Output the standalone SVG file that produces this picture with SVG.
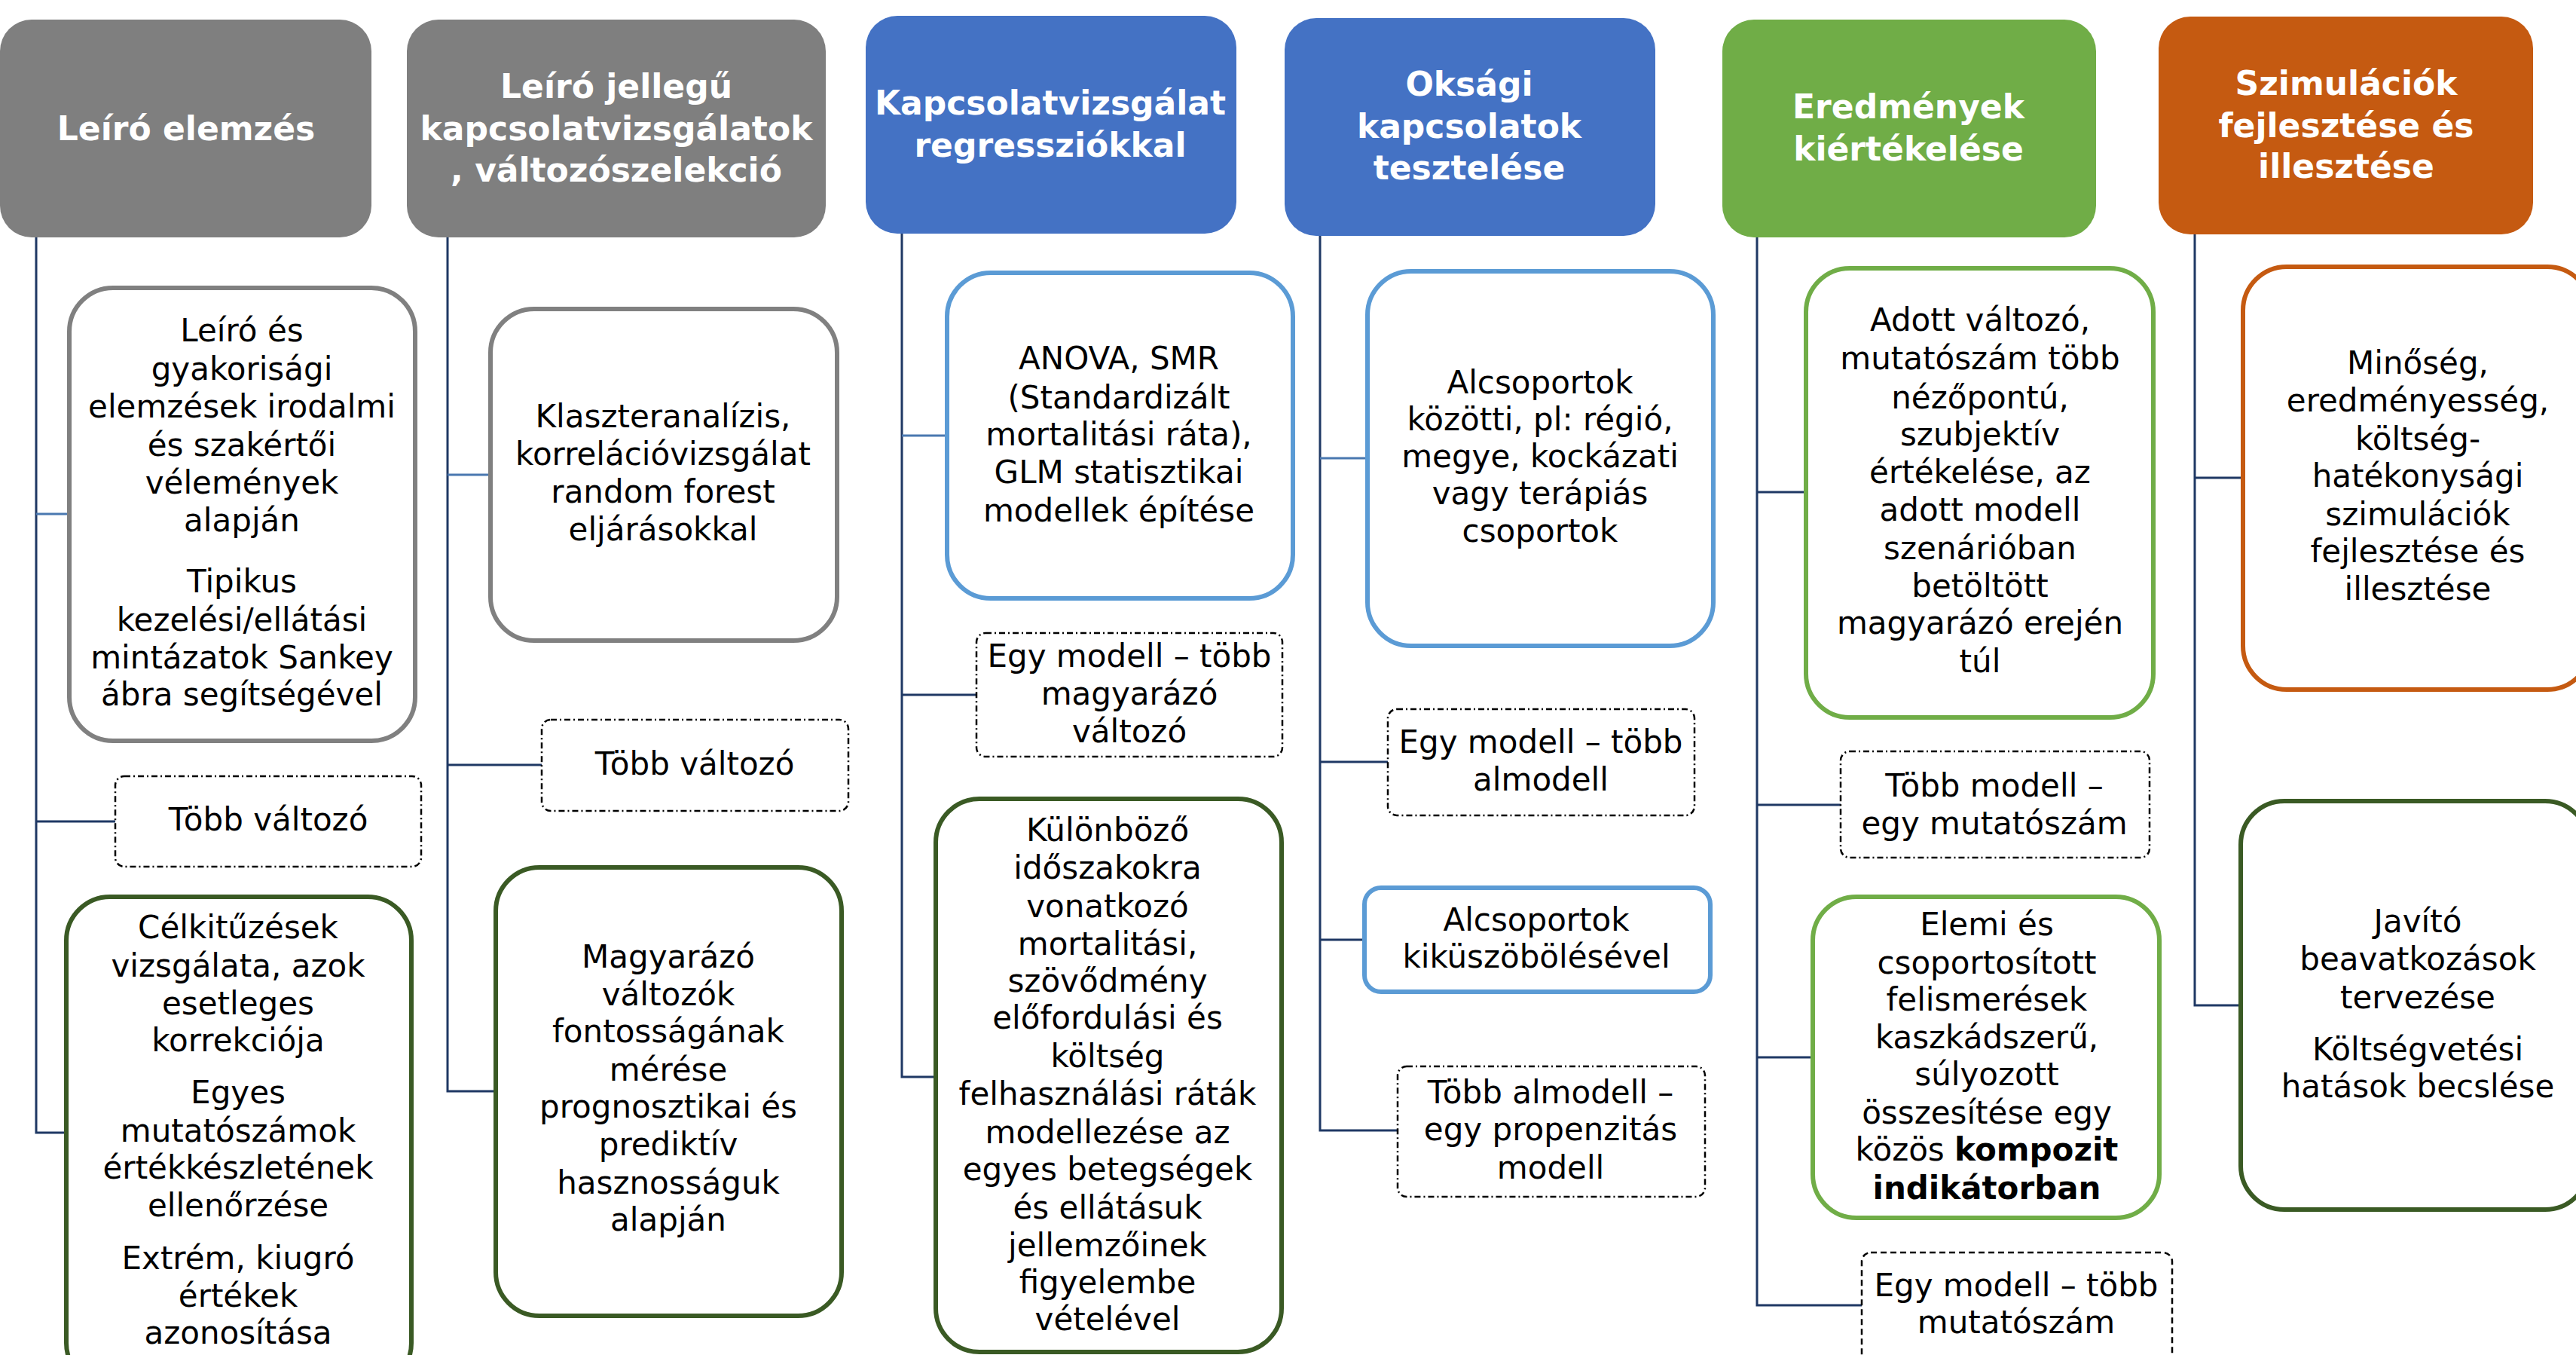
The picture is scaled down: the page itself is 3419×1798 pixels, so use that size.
<svg xmlns="http://www.w3.org/2000/svg" width="3419" height="1798" viewBox="0 0 3419 1798">
<style>
.hd{stroke:none}
.ht{font-family:"DejaVu Sans",Verdana,sans-serif;font-weight:bold;font-size:44px;fill:#ffffff;text-anchor:middle}
.t{font-family:"DejaVu Sans",Verdana,sans-serif;font-size:42px;fill:#000000;text-anchor:middle}
.b{font-weight:bold}
.box{fill:#ffffff;stroke-width:6}
.gray{stroke:#808080}
.lblue{stroke:#5b9bd5}
.lgreen{stroke:#70ad47}
.dgreen{stroke:#3a5a24}
.orange{stroke:#c55a11}
.dd{fill:#ffffff;stroke:#000000;stroke-width:2.5;stroke-dasharray:8 4 2 4}
.dash{fill:#ffffff;stroke:#000000;stroke-width:2.5;stroke-dasharray:8 5}
.c{stroke:#1f3864;stroke-width:3;fill:none}
.cl{stroke:#4a78b0;stroke-width:3;fill:none}
</style>
<rect width="3419" height="1798" fill="#ffffff"/>
<g id="connectors">
<path class="c" d="M48,315V1503H87M48,1090H153"/>
<path class="cl" d="M48,682H90"/>
<path class="c" d="M594,315V1448H657M594,1015H719"/>
<path class="cl" d="M594,630H650"/>
<path class="c" d="M1197,310V1429H1241M1197,922H1296"/>
<path class="cl" d="M1197,578H1256"/>
<path class="c" d="M1752,313V1500H1855M1752,1011H1842M1752,1247H1810"/>
<path class="cl" d="M1752,608H1813"/>
<path class="c" d="M2332,315V1732H2471M2332,653H2396M2332,1068H2443M2332,1403H2405"/>
<path class="c" d="M2913,311V1334H2973M2913,634H2976"/>
</g>
<g id="h1"><rect class="hd" x="0" y="26" width="493" height="289" rx="42" fill="#7f7f7f"/>
<text class="ht" x="247" y="186">Leíró elemzés</text></g>
<g id="h2"><rect class="hd" x="540" y="26" width="556" height="289" rx="42" fill="#7f7f7f"/>
<text class="ht" x="818" y="130">Leíró jellegű</text><text class="ht" x="818" y="186">kapcsolatvizsgálatok</text><text class="ht" x="818" y="241">, változószelekció</text></g>
<g id="h3"><rect class="hd" x="1149" y="21" width="492" height="289" rx="42" fill="#4472c4"/>
<text class="ht" x="1394" y="152">Kapcsolatvizsgálat</text><text class="ht" x="1394" y="208">regressziókkal</text></g>
<g id="h4"><rect class="hd" x="1705" y="24" width="492" height="289" rx="42" fill="#4472c4"/>
<text class="ht" x="1950" y="127">Oksági</text><text class="ht" x="1950" y="183">kapcsolatok</text><text class="ht" x="1950" y="238">tesztelése</text></g>
<g id="h5"><rect class="hd" x="2286" y="26" width="496" height="289" rx="42" fill="#70ad47"/>
<text class="ht" x="2533" y="157">Eredmények</text><text class="ht" x="2533" y="213">kiértékelése</text></g>
<g id="h6"><rect class="hd" x="2865" y="22" width="497" height="289" rx="42" fill="#c55a11"/>
<text class="ht" x="3114" y="126">Szimulációk</text><text class="ht" x="3114" y="182">fejlesztése és</text><text class="ht" x="3114" y="236">illesztése</text></g>

<g id="n1a"><rect class="box gray" x="92" y="382" width="459" height="601" rx="58"/>
<text class="t" x="321" y="453">Leíró és</text><text class="t" x="321" y="504">gyakorisági</text><text class="t" x="321" y="554">elemzések irodalmi</text><text class="t" x="321" y="605">és szakértői</text><text class="t" x="321" y="655">vélemények</text><text class="t" x="321" y="705">alapján</text><text class="t" x="321" y="786">Tipikus</text><text class="t" x="321" y="837">kezelési/ellátási</text><text class="t" x="321" y="887">mintázatok Sankey</text><text class="t" x="321" y="936">ábra segítségével</text></g>
<g id="n1b"><rect class="dd" x="153" y="1030" width="406" height="120" rx="12"/>
<text class="t" x="356" y="1102">Több változó</text></g>
<g id="n1c"><rect class="box dgreen" x="88" y="1190" width="458" height="650" rx="58"/>
<text class="t" x="316" y="1245">Célkitűzések</text><text class="t" x="316" y="1296">vizsgálata, azok</text><text class="t" x="316" y="1346">esetleges</text><text class="t" x="316" y="1395">korrekciója</text><text class="t" x="316" y="1464">Egyes</text><text class="t" x="316" y="1515">mutatószámok</text><text class="t" x="316" y="1564">értékkészletének</text><text class="t" x="316" y="1614">ellenőrzése</text><text class="t" x="316" y="1684">Extrém, kiugró</text><text class="t" x="316" y="1734">értékek</text><text class="t" x="316" y="1783">azonosítása</text></g>

<g id="n2a"><rect class="box gray" x="651" y="410" width="460" height="440" rx="58"/>
<text class="t" x="880" y="567">Klaszteranalízis,</text><text class="t" x="880" y="617">korrelációvizsgálat</text><text class="t" x="880" y="667">random forest</text><text class="t" x="880" y="717">eljárásokkal</text></g>
<g id="n2b"><rect class="dd" x="719" y="955" width="407" height="121" rx="12"/>
<text class="t" x="922" y="1028">Több változó</text></g>
<g id="n2c"><rect class="box dgreen" x="658" y="1151" width="459" height="595" rx="58"/>
<text class="t" x="887" y="1284">Magyarázó</text><text class="t" x="887" y="1334">változók</text><text class="t" x="887" y="1383">fontosságának</text><text class="t" x="887" y="1434">mérése</text><text class="t" x="887" y="1483">prognosztikai és</text><text class="t" x="887" y="1533">prediktív</text><text class="t" x="887" y="1584">hasznosságuk</text><text class="t" x="887" y="1633">alapján</text></g>

<g id="n3a"><rect class="box lblue" x="1257" y="362" width="459" height="432" rx="58"/>
<text class="t" x="1485" y="490">ANOVA, SMR</text><text class="t" x="1485" y="542">(Standardizált</text><text class="t" x="1485" y="591">mortalitási ráta),</text><text class="t" x="1485" y="641">GLM statisztikai</text><text class="t" x="1485" y="692">modellek építése</text></g>
<g id="n3b"><rect class="dd" x="1296" y="840" width="406" height="164" rx="12"/>
<text class="t" x="1499" y="885">Egy modell – több</text><text class="t" x="1499" y="935">magyarázó</text><text class="t" x="1499" y="985">változó</text></g>
<g id="n3c"><rect class="box dgreen" x="1242" y="1060" width="459" height="734" rx="58"/>
<text class="t" x="1470" y="1116">Különböző</text><text class="t" x="1470" y="1166">időszakokra</text><text class="t" x="1470" y="1217">vonatkozó</text><text class="t" x="1470" y="1267">mortalitási,</text><text class="t" x="1470" y="1316">szövődmény</text><text class="t" x="1470" y="1365">előfordulási és</text><text class="t" x="1470" y="1416">költség</text><text class="t" x="1470" y="1466">felhasználási ráták</text><text class="t" x="1470" y="1517">modellezése az</text><text class="t" x="1470" y="1566">egyes betegségek</text><text class="t" x="1470" y="1617">és ellátásuk</text><text class="t" x="1470" y="1667">jellemzőinek</text><text class="t" x="1470" y="1716">figyelembe</text><text class="t" x="1470" y="1765">vételével</text></g>

<g id="n4a"><rect class="box lblue" x="1815" y="360" width="459" height="497" rx="58"/>
<text class="t" x="2044" y="522">Alcsoportok</text><text class="t" x="2044" y="571">közötti, pl: régió,</text><text class="t" x="2044" y="620">megye, kockázati</text><text class="t" x="2044" y="669">vagy terápiás</text><text class="t" x="2044" y="719">csoportok</text></g>
<g id="n4b"><rect class="dd" x="1842" y="941" width="407" height="141" rx="12"/>
<text class="t" x="2045" y="999">Egy modell – több</text><text class="t" x="2045" y="1049">almodell</text></g>
<g id="n4c"><rect class="box lblue" x="1811" y="1178" width="459" height="138" rx="22"/>
<text class="t" x="2039" y="1235">Alcsoportok</text><text class="t" x="2039" y="1284">kiküszöbölésével</text></g>
<g id="n4d"><rect class="dd" x="1855" y="1415" width="408" height="173" rx="12"/>
<text class="t" x="2058" y="1464">Több almodell –</text><text class="t" x="2058" y="1513">egy propenzitás</text><text class="t" x="2058" y="1564">modell</text></g>

<g id="n5a"><rect class="box lgreen" x="2397" y="356" width="461" height="596" rx="58"/>
<text class="t" x="2628" y="439">Adott változó,</text><text class="t" x="2628" y="490">mutatószám több</text><text class="t" x="2628" y="542">nézőpontú,</text><text class="t" x="2628" y="591">szubjektív</text><text class="t" x="2628" y="641">értékelése, az</text><text class="t" x="2628" y="691">adott modell</text><text class="t" x="2628" y="742">szenárióban</text><text class="t" x="2628" y="792">betöltött</text><text class="t" x="2628" y="841">magyarázó erején</text><text class="t" x="2628" y="892">túl</text></g>
<g id="n5b"><rect class="dd" x="2443" y="997" width="410" height="141" rx="12"/>
<text class="t" x="2647" y="1057">Több modell –</text><text class="t" x="2647" y="1107">egy mutatószám</text></g>
<g id="n5c"><rect class="box lgreen" x="2406" y="1190" width="460" height="426" rx="58"/>
<text class="t" x="2637" y="1241">Elemi és</text><text class="t" x="2637" y="1292">csoportosított</text><text class="t" x="2637" y="1341">felismerések</text><text class="t" x="2637" y="1391">kaszkádszerű,</text><text class="t" x="2637" y="1440">súlyozott</text><text class="t" x="2637" y="1491">összesítése egy</text><text class="t" x="2637" y="1540">közös <tspan class="b">kompozit</tspan></text><text class="t b" x="2637" y="1591">indikátorban</text></g>
<g id="n5d"><rect class="dash" x="2471" y="1662" width="412" height="170" rx="12"/>
<text class="t" x="2676" y="1720">Egy modell – több</text><text class="t" x="2676" y="1769">mutatószám</text></g>

<g id="n6a"><rect class="box orange" x="2977" y="354" width="462" height="561" rx="58"/>
<text class="t" x="3209" y="496">Minőség,</text><text class="t" x="3209" y="546">eredményesség,</text><text class="t" x="3209" y="597">költség-</text><text class="t" x="3209" y="646">hatékonysági</text><text class="t" x="3209" y="697">szimulációk</text><text class="t" x="3209" y="746">fejlesztése és</text><text class="t" x="3209" y="796">illesztése</text></g>
<g id="n6b"><rect class="box dgreen" x="2974" y="1063" width="462" height="542" rx="58"/>
<text class="t" x="3209" y="1237">Javító</text><text class="t" x="3209" y="1287">beavatkozások</text><text class="t" x="3209" y="1338">tervezése</text><text class="t" x="3209" y="1407">Költségvetési</text><text class="t" x="3209" y="1456">hatások becslése</text></g>
</svg>
